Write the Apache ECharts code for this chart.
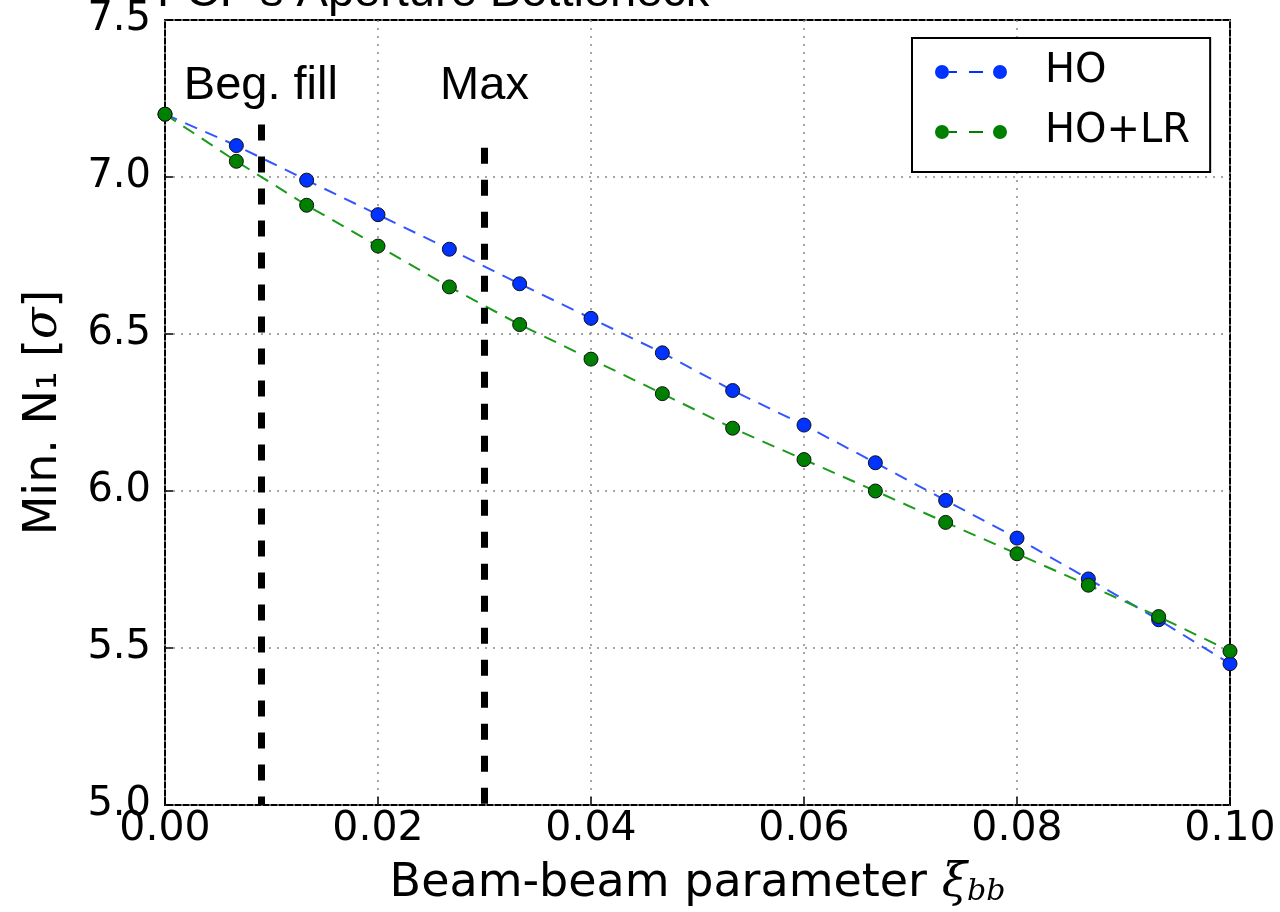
<!DOCTYPE html>
<html>
<head>
<meta charset="utf-8">
<script src="https://cdn.jsdelivr.net/npm/echarts@6/dist/echarts.min.js"></script>
<style>
  html, body { margin: 0; padding: 0; background: #fff; }
  #chart { width: 1280px; height: 912px; }
</style>
</head>
<body>
<div id="chart"></div>
<script>
// beam-beam parameter values (x)
const xiValues = [0, 0.0067, 0.0133, 0.02, 0.0267, 0.0333, 0.04, 0.0467, 0.0533, 0.06, 0.0667, 0.0733, 0.08, 0.0867, 0.0933, 0.1];
// min N1 for head-on only
const hoValues = [7.2, 7.1, 6.99, 6.88, 6.77, 6.66, 6.55, 6.44, 6.32, 6.21, 6.09, 5.97, 5.85, 5.72, 5.59, 5.45];
// min N1 for head-on + long-range
const holrValues = [7.2, 7.05, 6.91, 6.78, 6.65, 6.53, 6.42, 6.31, 6.2, 6.1, 6.0, 5.9, 5.8, 5.7, 5.6, 5.49];
// vertical markers: [x, top of dashed line]
const markerNames = ["Beg. fill", "Max"];
const markerX = [0.009, 0.03];
const markerTop = [7.167, 7.093];
const labelY = 7.29;

const chart = echarts.init(document.getElementById("chart"));

const legendIcon = "path://M0,7a7,7 0 1,0 14,0a7,7 0 1,0 -14,0Z M14,6H22V8H14Z M34,6H48V8H34Z M58,7a7,7 0 1,0 14,0a7,7 0 1,0 -14,0Z";

function pairs(xs, ys) {
  return xs.map((x, i) => [x, ys[i]]);
}

const option = {
  backgroundColor: "#fff",
  animation: false,
  title: {
    text: "FCP's Aperture Bottleneck",
    left: 157,
    top: -30,
    padding: 0,
    textStyle: {
      fontFamily: "Liberation Sans",
      fontSize: 47,
      fontWeight: "normal",
      color: "#000"
    }
  },
  grid: {
    left: 165,
    right: 50,
    top: 20,
    bottom: 105,
    show: true,
    borderColor: "#000",
    borderWidth: 2,
    containLabel: false
  },
  legend: {
    data: ["HO", "HO+LR"],
    orient: "vertical",
    left: 912,
    top: 38,
    padding: [12, 20, 18, 23],
    itemGap: 16,
    itemWidth: 72,
    itemHeight: 14,
    backgroundColor: "#fff",
    borderColor: "#000",
    borderWidth: 2,
    borderRadius: 0,
    icon: legendIcon,
    itemStyle: { borderWidth: 0 },
    textStyle: {
      fontFamily: "DejaVu Sans",
      fontSize: 40,
      lineHeight: 44,
      color: "#000",
      padding: [0, 0, 0, 33]
    }
  },
  xAxis: {
    type: "value",
    min: 0,
    max: 0.1,
    interval: 0.02,
    name: "Beam-beam parameter {xi|ξ}{sub|bb}",
    nameLocation: "middle",
    nameGap: 56,
    nameTextStyle: {
      fontFamily: "DejaVu Sans",
      fontSize: 46,
      color: "#000",
      rich: {
        xi: { fontFamily: "DejaVu Serif", fontStyle: "italic", fontSize: 46, color: "#000" },
        sub: { fontFamily: "DejaVu Serif", fontStyle: "italic", fontSize: 30, color: "#000", verticalAlign: "bottom", padding: [16, 0, 0, 0] }
      }
    },
    axisLine: { show: false },
    axisTick: { show: true, inside: true, length: 8, lineStyle: { color: "#000", width: 1.5 } },
    axisLabel: {
      fontFamily: "DejaVu Sans",
      fontSize: 41,
      color: "#000",
      margin: 4,
      formatter: v => v.toFixed(2)
    },
    splitLine: { show: true, lineStyle: { color: "#888", width: 1.5, type: [2, 6] } }
  },
  yAxis: {
    type: "value",
    min: 5,
    max: 7.5,
    interval: 0.5,
    name: "Min. N₁ [{s|σ}]",
    nameLocation: "middle",
    nameGap: 98,
    nameRotate: 90,
    nameTextStyle: {
      fontFamily: "DejaVu Sans",
      fontSize: 46,
      color: "#000",
      rich: {
        s: { fontFamily: "DejaVu Serif", fontStyle: "italic", fontSize: 46, color: "#000" }
      }
    },
    axisLine: { show: false },
    axisTick: { show: true, inside: true, length: 8, lineStyle: { color: "#000", width: 1.5 } },
    axisLabel: {
      fontFamily: "DejaVu Sans",
      fontSize: 40,
      color: "#000",
      margin: 14,
      formatter: v => v.toFixed(1)
    },
    splitLine: { show: true, lineStyle: { color: "#888", width: 1.5, type: [2, 6] } }
  },
  series: [
    {
      name: "markers",
      type: "scatter",
      data: markerNames.map((n, i) => ({ name: n, value: [markerX[i], labelY] })),
      symbolSize: 0,
      silent: true,
      z: 5,
      itemStyle: { opacity: 1 },
      label: {
        show: true,
        position: "inside",
        formatter: "{b}",
        fontFamily: "Liberation Sans",
        fontSize: 47,
        color: "#000",
        opacity: 1
      },
      markLine: {
        silent: true,
        symbol: "none",
        label: { show: false },
        lineStyle: { color: "#000", width: 7, type: [16, 16], opacity: 1 },
        data: markerX.map((x, i) => [
          { coord: [x, markerTop[i]] },
          { coord: [x, 5.0] }
        ])
      }
    },
    {
      name: "HO",
      type: "line",
      data: pairs(xiValues, hoValues),
      symbol: "circle",
      symbolSize: 14,
      z: 3,
      lineStyle: { color: "#3355ff", width: 2, type: [13, 9] },
      itemStyle: { color: "#0033ff", borderColor: "#111", borderWidth: 1 }
    },
    {
      name: "HO+LR",
      type: "line",
      data: pairs(xiValues, holrValues),
      symbol: "circle",
      symbolSize: 14,
      z: 4,
      lineStyle: { color: "#1a9a1a", width: 2, type: [13, 9] },
      itemStyle: { color: "#008000", borderColor: "#111", borderWidth: 1 }
    }
  ]
};

chart.setOption(option);
</script>
</body>
</html>
